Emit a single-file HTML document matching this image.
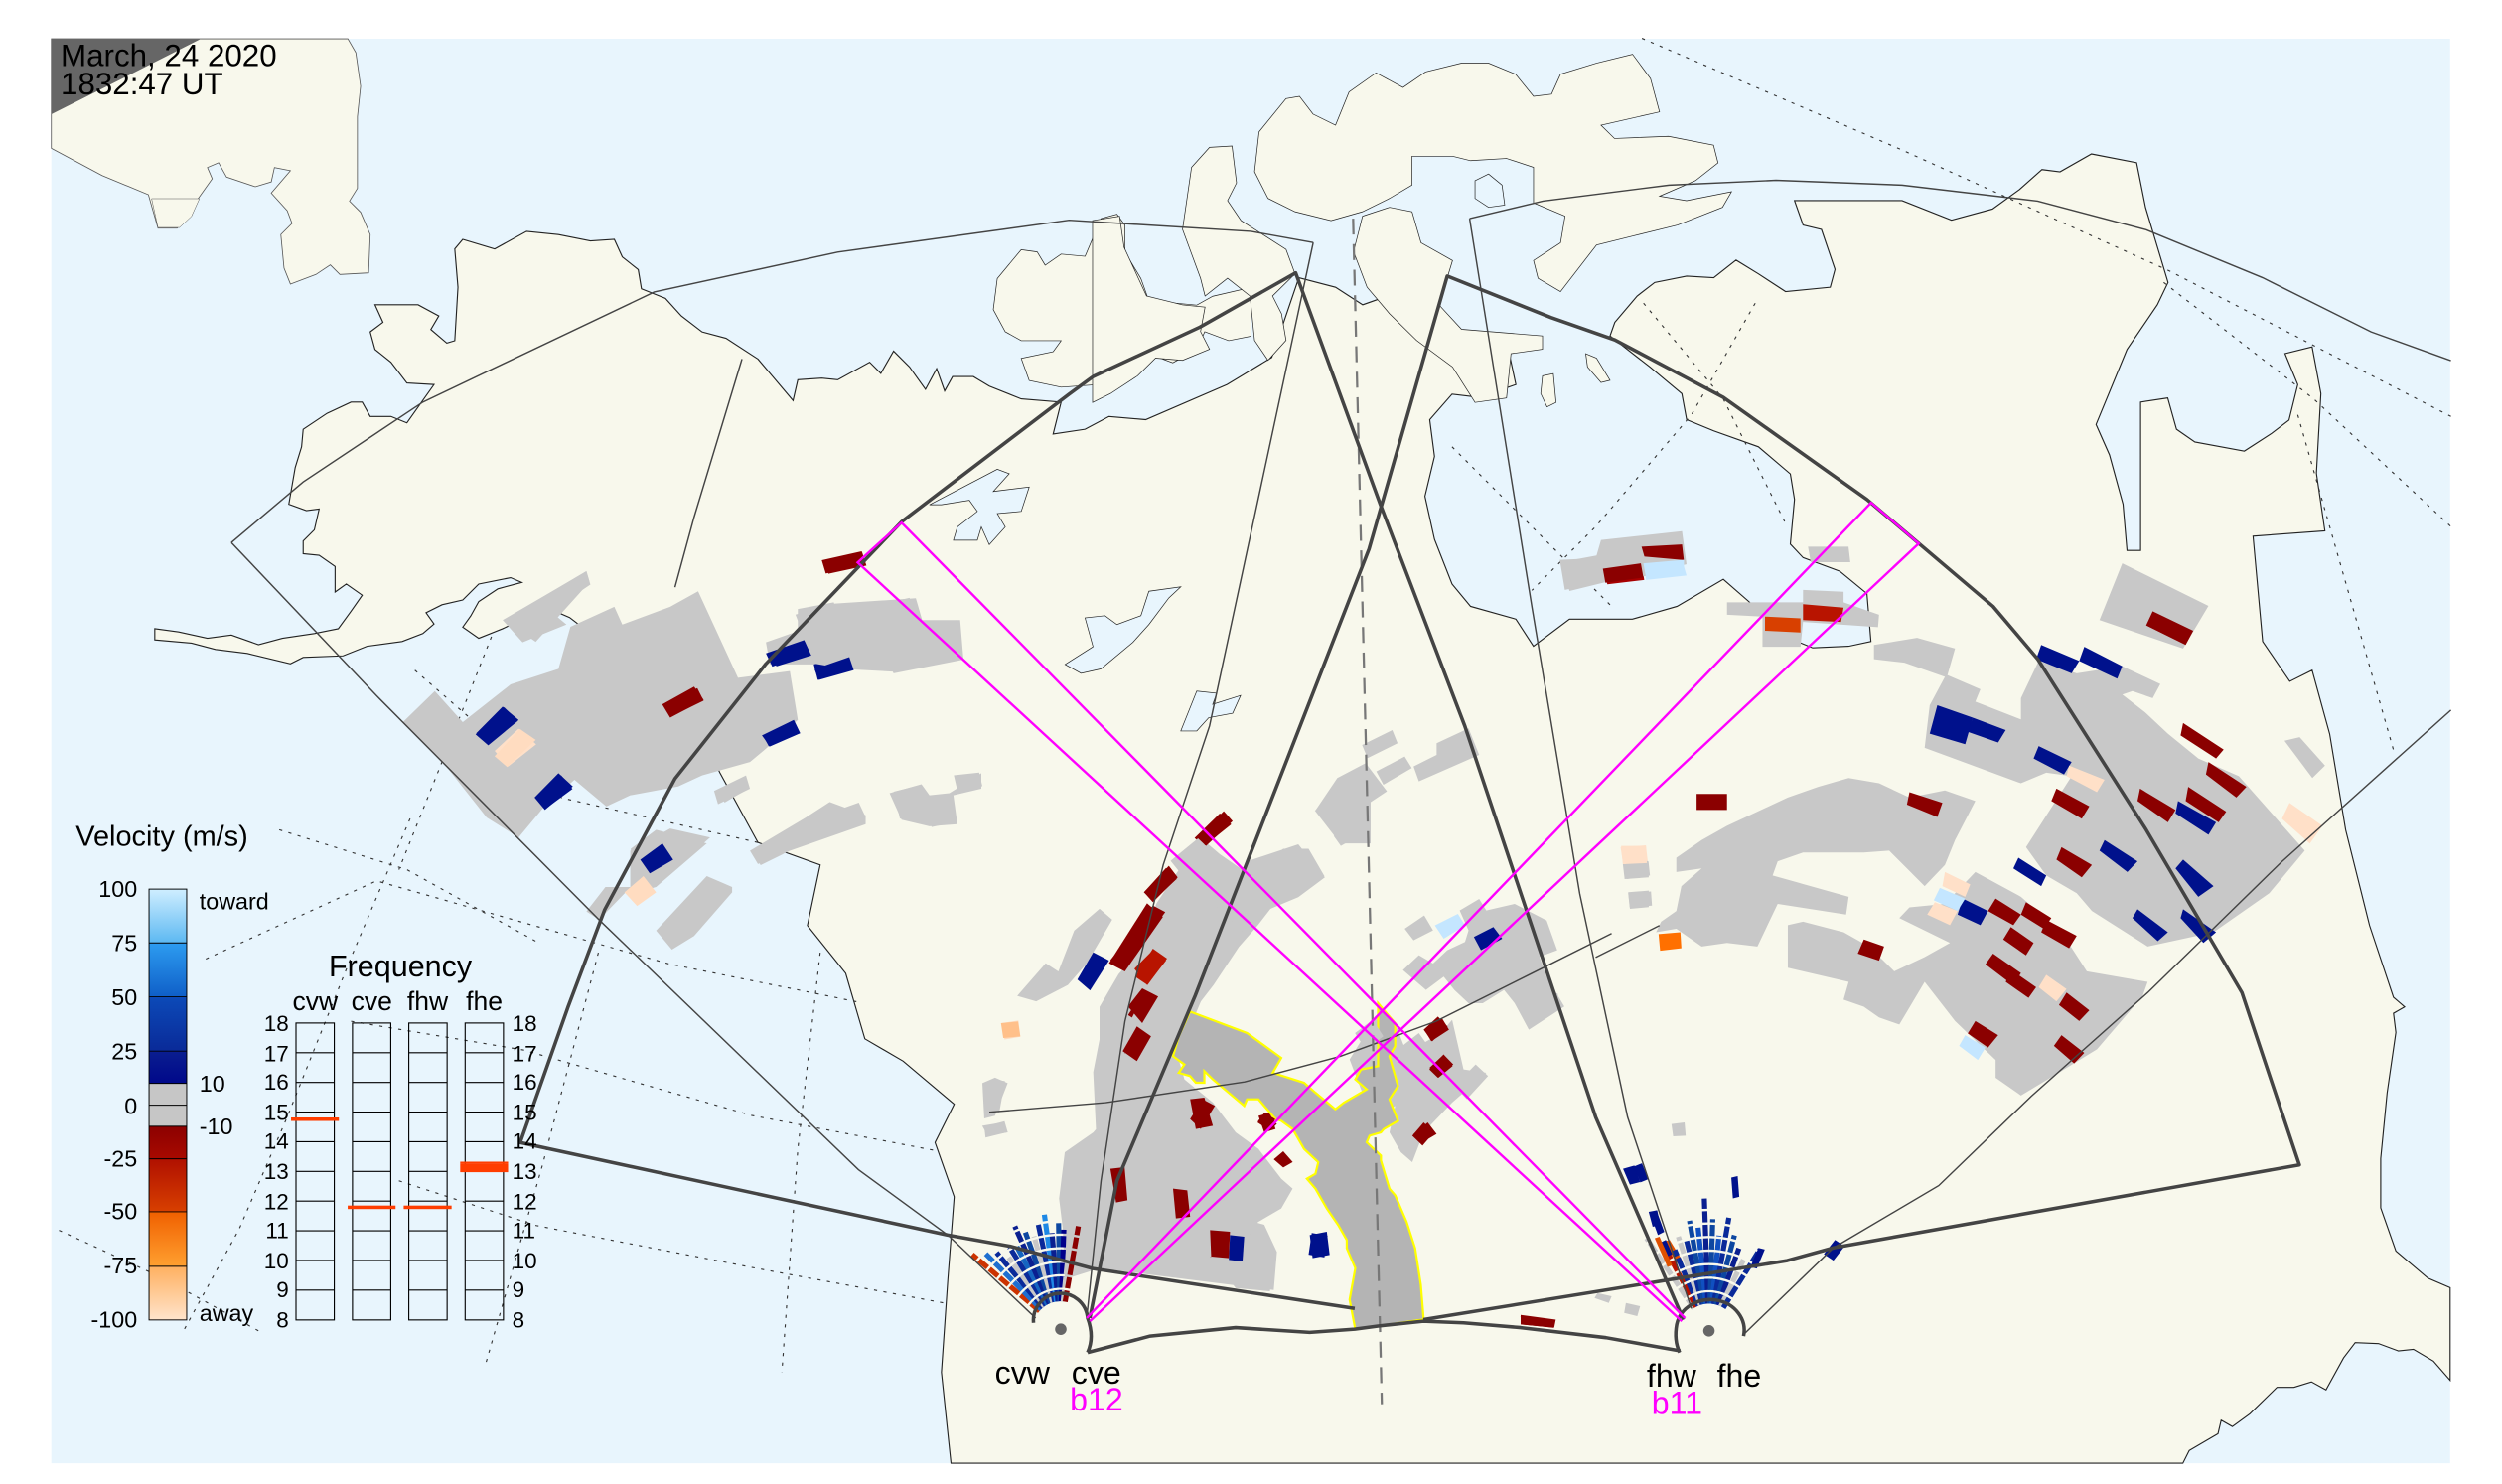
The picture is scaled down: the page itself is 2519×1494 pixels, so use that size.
<!DOCTYPE html>
<html><head><meta charset="utf-8"><style>
html,body{margin:0;padding:0;background:#fff;}
svg{display:block;}
text{font-family:"Liberation Sans",sans-serif;}
.ns{vector-effect:non-scaling-stroke;}
</style></head><body>
<svg width="2519" height="1494" viewBox="0 0 1568 930" preserveAspectRatio="none" xmlns="http://www.w3.org/2000/svg">
<defs>
<linearGradient id="g1" x1="0" y1="0" x2="0" y2="1"><stop offset="0" stop-color="#cfeeff"/><stop offset="1" stop-color="#5cb8f2"/></linearGradient>
<linearGradient id="g2" x1="0" y1="0" x2="0" y2="1"><stop offset="0" stop-color="#2d9cf0"/><stop offset="1" stop-color="#0f5fc8"/></linearGradient>
<linearGradient id="g3" x1="0" y1="0" x2="0" y2="1"><stop offset="0" stop-color="#0c4ab8"/><stop offset="1" stop-color="#0a2a98"/></linearGradient>
<linearGradient id="g4" x1="0" y1="0" x2="0" y2="1"><stop offset="0" stop-color="#0a1e90"/><stop offset="1" stop-color="#00088a"/></linearGradient>
<linearGradient id="g5" x1="0" y1="0" x2="0" y2="1"><stop offset="0" stop-color="#8c0000"/><stop offset="1" stop-color="#a80a00"/></linearGradient>
<linearGradient id="g6" x1="0" y1="0" x2="0" y2="1"><stop offset="0" stop-color="#b01000"/><stop offset="1" stop-color="#d84000"/></linearGradient>
<linearGradient id="g7" x1="0" y1="0" x2="0" y2="1"><stop offset="0" stop-color="#f06000"/><stop offset="1" stop-color="#ffa030"/></linearGradient>
<linearGradient id="g8" x1="0" y1="0" x2="0" y2="1"><stop offset="0" stop-color="#ffb060"/><stop offset="1" stop-color="#ffe4cc"/></linearGradient>
</defs>
<rect x="0" y="0" width="1568" height="930" fill="#fff"/>
<rect x="32.2" y="24.3" width="1503.3" height="892.7" fill="#e8f5fd"/>

<!-- Siberia chunk -->
<polygon fill="#f8f8ec" stroke="#555" stroke-width="0.5" points="32.2,24.3 218,24.3 223,33 226,54 224,73 224,118 219,126 226,133 232,147 231,171 213,172 207,166 198,172 182,178 178,168 176,147 183,140 180,132 170,121 182,107 172,105 170,114 160,117 142,111 137,102 130,105 133,112 111,143 99,143 93,122 64,110 32.2,93"/>
<g transform="translate(0,124.5) scale(0.5,0.278)">
<polygon class="ns" fill="#f8f8ec" stroke="#555" stroke-width="0.5" points="190,0 250,0 240,40 225,65 198,65"/>
</g>

<!-- Mainland -->
<polygon fill="#f8f8ec" stroke="#222" stroke-width="0.7" points="596,917 590,860 594,802 598,750 586,716 598,692 566,665 542,651 530,610 506,580 514,542 475,528 451,484 440,460 400,420 357,387 350,384 330,387 315,394 300,400 290,393 295,386 300,377 312,369 327,365 320,362 300,366 290,376 277,379 267,384 272,391 265,397 252,402 230,405 215,411 190,412 182,416 155,409.5 135,407 120,403 97,401 97,394 112,396 130,400 145,398 162,404 177,400 197,397 212,394 220,383 227,373 217,366 210,371 210,355 200,348 190,347 190,339 197,332 200,319 192,320 181,316 185,293 189,280 190,269 205,259 220,252 227,252 232,261 245,261 255,265 272,241 255,240 245,227 235,219 232,208 240,202 235,191 262,191 275,198 270,206.5 280,215 285,213.5 287,180 285,156 290,150 310,156 330,145 350,147 370,151 385,150 390,161 400,169 402,181 417,187 427,198 440,208 455,212 475,225 497,251 500,238 515,237 525,238 545,227 552,234 560,220 570,230 580,244 587,231 592,245 597,236 610,236 620,242 640,250 665,252 660,272 680,269 695,261 718,263 769,241 797,224 814,174 837,180 854,191 871,185 888,199 905,205 921.6,208 944,213 950,241 927,249 910,247 896,263 899,286 893,311 899,338 910,366 921.6,380 950,388 961,405 983.6,388 1023,388 1051,380 1080,363 1096,377 1119,399 1136,406 1158.5,405 1172.5,402 1170,372 1153,358 1130,349.5 1122,341 1124.6,313 1122,297 1102,280 1074,270 1057,263 1054,246.7 1034,230 1009,210.5 1012,202 1026,185.5 1037,177 1057,173 1074,174 1088,163 1102,171.6 1119,182.7 1147,180 1150,168.8 1141.5,143.8 1130,141 1124.6,125.7 1192,125.7 1223,138 1248.7,131 1265.6,118.8 1279.7,106.3 1291,107.7 1310.7,96.5 1339,102 1344.6,130 1358.7,177 1352,191 1333,219 1313.6,266 1322,285 1330.5,316 1333,345 1341.5,345 1341.5,252 1358.5,249.4 1364,269 1375.5,277 1406.5,282.7 1423.6,271.6 1434.5,263.3 1440,241 1432,221.6 1449,217.4 1454.5,246.6 1451.7,296.6 1457,332.7 1412,336 1418,402 1435,427 1449,420 1460,460 1470,520 1485,580 1500,625 1507,631 1500,635 1501.5,647 1496,685 1492,726 1492,757 1501.5,784 1521.6,801 1535.5,807 1535.5,865 1525,853 1512.5,845.6 1503,846.6 1490.6,842 1476,841.4 1468.7,851 1457.7,871 1448.6,866 1437.6,869.4 1427,869.4 1410,886 1399,894 1392,890 1390,898.5 1372,909 1368,917"/>

<!-- Banks island & lakes (zoom6 frame) -->
<g transform="translate(0,124.5) scale(0.5,0.278)" fill="#f8f8ec" stroke="#222" stroke-width="0.7">
<polygon class="ns" points="1245,250 1250,180 1280,115 1300,120 1310,150 1330,125 1360,130 1380,45 1400,35 1410,60 1410,120 1430,180 1440,230 1500,240 1520,220 1568,200 1568,310 1540,320 1510,300 1500,340 1470,370 1440,350 1400,390 1370,420 1330,425 1290,410 1280,360 1320,345 1330,320 1280,320 1260,300"/>
<polygon class="ns" fill="#e8f5fd" points="1165,690 1250,610 1265,620 1245,660 1290,650 1280,705 1250,710 1260,740 1240,780 1230,740 1225,770 1195,770 1200,740 1225,705 1215,680 1180,690"/>
<polygon class="ns" fill="#e8f5fd" points="1335,1050 1370,1010 1360,945 1385,940 1400,960 1430,940 1440,885 1480,875 1465,900 1440,960 1420,1000 1380,1060 1355,1070"/>
<polygon class="ns" fill="#e8f5fd" points="1480,1200 1500,1110 1525,1115 1520,1140 1555,1120 1545,1160 1515,1170 1500,1200"/>
</g>

<!-- Arctic islands (zoom5 frame) -->
<g transform="translate(684.7,18.7) scale(0.564,0.278)" fill="#f8f8ec" stroke="#222" stroke-width="0.7">
<polygon class="ns" points="0,430 30,420 35,490 60,600 100,620 125,625 120,680 130,720 100,745 70,740 50,780 20,820 0,840"/>
<polygon class="ns" points="110,310 130,265 155,262 160,345 150,385 165,430 215,495 225,550 200,600 210,640 215,700 195,745 180,700 175,600 150,560 125,600 120,560 100,450"/>
<polygon class="ns" points="230,150 245,190 270,215 285,140 315,97 345,130 370,95 410,75 440,75 470,100 490,150 510,145 520,100 560,75 600,55 620,110 630,185 565,215 580,245 640,240 690,260 695,300 670,340 630,375 660,385 710,365 700,400 650,440 600,465 560,485 520,590 495,560 490,520 520,480 525,420 490,390 490,310 460,290 420,295 400,285 355,285 355,350 330,380 300,410 265,430 225,410 195,380 180,320 185,230 215,155"/>
<polygon class="ns" points="300,420 330,400 355,410 365,480 400,520 385,620 410,675 500,690 500,720 465,730 460,830 425,840 400,760 360,700 330,640 305,580 290,500"/>
<polygon class="ns" fill="#e8f5fd" points="425,340 440,325 455,350 458,395 440,400 425,380"/>
<polygon class="ns" points="500,780 512,775 515,840 505,850 498,820"/>
<polygon class="ns" points="548,730 560,740 575,790 565,795 550,760"/>
</g>

<!-- dotted graticule -->
<g fill="none" stroke="#333" stroke-width="0.7" stroke-dasharray="2,4">
<polyline points="175,520 255,545 336,590"/>
<polyline points="257,513 220,600 180,700 150,770 115,834"/>
<polyline points="129,601 236,552 419,604 538,628"/>
<polyline points="37,771 100,800 162,834"/>
<polyline points="220,640 328,658 471,699 586,721"/>
<polyline points="250,740 336,768 475,795 594,817"/>
<polyline points="308,399 280,470 250,545"/>
<polyline points="375,597 340,730 304,856"/>
<polyline points="514,597 500,720 490,860"/>
<polyline points="260,420 352,500 475,528"/>
<polyline points="1029,24 1192,94 1360,170 1536,261"/>
<polyline points="1356,177 1450,250 1536,330"/>
<polyline points="1440,260 1480,400 1500,470"/>
<polyline points="910,280 960,330 1010,380"/>
<polyline points="1100,190 1060,260 1000,330 960,370"/>
<polyline points="1030,190 1080,250 1120,330"/>
</g>

<!-- Gray & colored data, zoom6 frame -->
<g transform="translate(0,124.5) scale(0.5,0.278)">
<g fill="#c8c8c8">
<polygon points="505,1180 545,1110 580,1180 640,1095 700,1060 715,965 770,920 780,960 840,920 875,885 925,1080 990,1065 1000,1175 960,1240 940,1270 880,1300 850,1325 790,1345 760,1370 720,1310 680,1375 650,1440 610,1395 555,1270"/>
<polygon points="630,950 735,840 740,870 690,930 710,960 655,1000"/>
<polygon points="960,1000 1000,975 1000,925 1045,910 1050,935 1140,900 1150,965 1200,950 1205,1040 1120,1070 1105,1010 1070,1040 1020,1050 965,1050"/>
<polygon points="895,1335 935,1300 940,1330 900,1365"/>
<polygon points="940,1470 1010,1395 1040,1360 1085,1390 1085,1410 990,1470 950,1500"/>
<polygon points="1115,1340 1155,1320 1165,1345 1190,1340 1230,1295 1230,1330 1195,1345 1200,1410 1165,1415 1130,1400"/>
<polygon points="790,1470 840,1420 890,1440 840,1520 790,1568"/>
</g>
<polygon fill="#8b0000" points="1030,815 1080,795 1085,825 1035,845"/>
<polygon fill="#8b0000" points="830,1140 870,1100 882,1130 840,1170"/>
<polygon fill="#00118c" points="597,1205 630,1145 650,1175 612,1230"/>
<polygon fill="#ffe0c8" points="620,1245 650,1195 672,1230 637,1280"/>
<polygon fill="#00118c" points="670,1350 700,1295 718,1325 683,1378"/>
<polygon fill="#00118c" points="955,1210 995,1175 1003,1205 965,1235"/>
<polygon fill="#00118c" points="960,1025 1008,995 1015,1025 968,1055"/>
<polygon fill="#00118c" points="1020,1050 1065,1030 1070,1060 1025,1085"/>
<polygon fill="#00118c" points="800,1495 830,1450 845,1480 815,1525"/>
</g>

<!-- zoom7 frame data -->
<g transform="translate(236.5,323.7) scale(0.397,0.3414)">
<g fill="#c8c8c8">
<polygon points="400,610 440,575 520,600 440,680 410,690"/>
<polygon points="440,760 520,660 560,680 560,690 500,770 465,795"/>
<polygon points="330,725 360,680 400,680 350,740"/>
<polygon points="595,620 650,580 700,550 760,525 770,550 700,580 640,620 605,640"/>
<polygon points="540,500 575,480 585,500 548,525"/>
<polygon points="815,505 850,495 865,520 900,510 915,560 875,570 860,530 825,555"/>
<polygon points="910,475 950,470 955,495 915,500"/>
<polygon points="955,1040 975,1030 995,1040 975,1100 958,1105"/>
<polygon points="958,1120 990,1110 995,1130 960,1140"/>
<polygon points="1085,1400 1080,1240 1100,1180 1135,1140 1130,1020 1140,960 1140,900 1170,840 1200,800 1230,710 1270,640 1300,590 1330,620 1380,660 1430,610 1470,610 1495,660 1460,690 1410,720 1390,750 1360,790 1320,860 1300,890 1260,1000 1250,1050 1290,1080 1300,1130 1320,1200 1340,1280 1400,1300 1420,1350 1415,1420 1140,1380"/>
<polygon points="1010,880 1055,820 1075,835 1100,760 1140,720 1160,740 1120,820 1090,860 1040,890"/>
<polygon points="1480,540 1530,480 1568,470 1568,600 1520,600"/>
<polygon points="200,190 330,100 335,120 250,230"/>
<polygon points="660,180 720,160 850,150 860,190 920,190 925,260 820,285 740,280 690,270"/>
</g>
<g fill="#8b0000">
<polygon points="705,80 765,65 772,90 712,105"/>
<polygon points="1290,590 1330,545 1348,565 1305,605"/>
<polygon points="1210,690 1245,645 1262,665 1225,705"/>
<polygon points="1155,820 1215,710 1240,735 1180,835"/>
<polygon points="1185,915 1210,870 1230,890 1205,930"/>
<polygon points="1180,985 1205,940 1220,960 1195,1000"/>
<polygon points="1285,1110 1300,1070 1320,1080 1300,1125"/>
<polygon points="1165,1250 1180,1195 1198,1200 1180,1260"/>
<polygon points="1255,1285 1270,1235 1290,1240 1275,1290"/>
<polygon points="1315,1360 1322,1310 1345,1315 1340,1360"/>
<polygon points="1390,1110 1400,1095 1420,1115 1408,1128"/>
<polygon points="1415,1180 1430,1165 1445,1185 1430,1195"/>
<polygon points="452,345 505,315 515,338 462,368"/>
</g>
<polygon fill="#b81400" points="1195,830 1225,795 1245,815 1215,860"/>
<g fill="#00118c">
<polygon points="1105,850 1130,800 1155,815 1125,870"/>
<polygon points="1345,1365 1345,1320 1370,1325 1365,1370"/>
<polygon points="1470,1355 1475,1315 1500,1320 1495,1360"/>
<polygon points="620,250 675,230 685,255 630,275"/>
<polygon points="690,280 745,258 752,282 697,300"/>
<polygon points="610,405 655,375 667,398 618,422"/>
<polygon points="155,400 200,350 222,375 175,420"/>
<polygon points="250,515 290,475 308,500 265,537"/>
<polygon points="415,630 450,600 467,630 430,655"/>
</g>
<g fill="#ffdcc0">
<polygon points="185,440 225,390 250,410 205,460"/>
<polygon points="390,690 420,660 440,690 410,715"/>
<polygon points="985,930 1012,925 1015,955 990,960"/>
</g>
</g>

<!-- zoom3 frame data -->
<g transform="translate(560.2,622.5) scale(0.357,0.2075)">
<g fill="#c8c8c8">
<polygon points="290,620 300,480 350,420 400,320 410,100 440,0 530,0 500,130 500,200 510,260 560,330 600,420 640,470 680,560 700,590 680,650 640,690 620,720 650,760 670,800 660,900 600,890 560,800 490,740 420,720 360,810 300,760"/>
<polygon points="800,200 850,60 880,90 900,180 960,120 980,80 1000,230 1040,240 980,330 930,420 910,510 890,480 870,420 880,340 845,380 820,290"/>
<polygon points="1080,0 1165,0 1170,45 1115,105"/>
<polygon points="1365,395 1388,390 1390,430 1368,432"/>
<polygon points="1235,905 1260,915 1255,935 1230,920"/>
<polygon points="1285,935 1310,945 1305,975 1282,965"/>
<polygon points="155,400 190,390 200,420 165,430"/>
<polygon points="160,350 175,260 195,265 185,360"/>
</g>
<g fill="#8b0000">
<polygon points="930,110 955,70 972,100 945,145"/>
<polygon points="940,230 965,185 982,215 955,255"/>
<polygon points="910,430 930,390 948,420 928,460"/>
<polygon points="555,715 590,720 588,800 557,795"/>
<polygon points="380,530 405,525 410,625 390,632"/>
<polygon points="490,590 515,595 520,675 495,680"/>
<polygon points="520,320 545,315 560,400 530,410"/>
<polygon points="640,370 660,360 670,410 650,420"/>
<polygon points="1100,975 1155,985 1158,1010 1102,1000"/>
</g>
<g fill="#00118c">
<polygon points="730,730 760,720 765,790 735,800"/>
<polygon points="590,730 615,735 612,810 588,805"/>
<polygon points="1280,530 1300,520 1310,570 1292,578"/>
<polygon points="1325,660 1340,655 1345,700 1332,705"/>
</g>
<polygon fill="#e05000" points="1350,750 1362,745 1385,810 1375,815"/>
<polygon fill="#ffc08a" points="188,90 218,85 222,130 192,135"/>
<!-- yellow box -->
<polygon fill="#b4b4b4" stroke="#ffff00" stroke-width="2.2" class="ns" points="520,55 620,120 680,195 665,240 720,270 740,300 775,350 790,330 830,290 810,260 820,230 850,220 850,30 880,90 880,160 870,190 885,280 870,320 885,385 860,410 855,420 835,430 830,450 855,490 855,505 870,590 880,610 900,690 915,770 925,880 930,985 810,1015 800,925 810,830 795,770 795,745 780,700 760,650 740,590 725,560 740,545 745,510 720,470 700,410 680,385 670,380 640,320 620,320 615,340 560,260 545,235 545,270 530,270 520,250 500,240 510,215 490,190 500,130"/>
</g>

<!-- zoom9 frame data -->
<g transform="translate(684.7,404.6) scale(0.2223,0.2075)">
<g fill="#c8c8c8">
<polygon points="760,300 845,255 860,295 775,340"/>
<polygon points="690,400 770,355 830,440 760,490 735,470 650,530 630,495"/>
<polygon points="800,380 880,335 900,370 820,420"/>
<polygon points="905,365 970,330 970,295 1060,250 1090,330 920,410"/>
<polygon points="680,575 750,520 775,560 700,605"/>
<polygon points="880,855 935,815 960,860 905,890"/>
<polygon points="1035,800 1090,765 1110,800 1190,780 1280,830 1310,920 1260,940 1280,1000 1330,1090 1230,1160 1190,1080 1160,1040 1100,1080 1060,1080 1020,1040 990,1000 940,1040 875,980 920,935 960,960 1000,920 1050,895 1060,860"/>
<polygon points="440,650 580,600 655,700 580,760 490,800 430,870 340,780"/>
<polygon points="1495,660 1565,650 1568,700 1500,705"/>
<polygon points="1510,745 1568,740 1568,790 1515,795"/>
<polygon points="740,1170 790,1130 820,1180 770,1220"/>
<polygon points="860,1220 920,1170 960,1230 910,1280"/>
<polygon points="1020,1330 1080,1265 1115,1300 1055,1370"/>
<polygon points="880,1320 940,1270 960,1320 900,1370"/>
<polygon points="220,650 300,580 330,620 250,690"/>
<polygon points="280,700 350,640 370,670 300,740"/>
</g>
<polygon fill="#c4e6ff" points="965,845 1030,810 1050,845 990,885"/>
<polygon fill="#00118c" points="1075,880 1130,850 1155,885 1095,920"/>
<polygon fill="#ffe0c8" points="1490,605 1560,605 1565,650 1495,660"/>
<g fill="#8b0000">
<polygon points="935,1160 985,1125 1005,1160 955,1195"/>
<polygon points="950,1275 990,1235 1015,1270 975,1305"/>
<polygon points="905,1475 945,1440 970,1475 930,1500"/>
<polygon points="295,580 370,500 395,530 320,605"/>
<polygon points="145,745 215,665 240,700 170,775"/>
<polygon points="110,870 170,785 205,805 150,885"/>
<polygon points="50,950 110,870 145,900 80,975"/>
<polygon points="100,1090 140,1035 185,1060 140,1140"/>
<polygon points="85,1225 125,1150 165,1180 125,1255"/>
<polygon points="275,1430 310,1370 345,1390 305,1460"/>
<polygon points="465,1440 485,1410 515,1430 500,1465"/>
</g>
<polygon fill="#b81400" points="120,1000 170,915 210,945 155,1025"/>
</g>

<!-- zoom5 frame: Hudson data -->
<g transform="translate(684.7,18.7) scale(0.564,0.278)">
<polygon fill="#c8c8c8" points="520,1200 560,1185 565,1150 655,1130 660,1205 600,1230 530,1265"/>
<polygon fill="#8b0000" points="610,1165 655,1160 657,1195 615,1200"/>
<polygon fill="#a80000" points="568,1215 610,1205 613,1240 572,1250"/>
<polygon fill="#c4e6ff" points="613,1205 655,1195 660,1230 615,1240"/>
<polygon fill="#c8c8c8" points="795,1165 840,1165 842,1200 798,1200"/>
</g>

<!-- zoom8 frame: right cluster -->
<g transform="translate(964.8,348.6) scale(0.3176,0.2223)">
<g fill="#c8c8c8">
<polygon points="1150,20 1320,140 1270,260 1105,180"/>
<polygon points="660,250 745,230 820,260 805,335 870,375 860,410 950,460 950,400 985,295 1060,330 1150,310 1225,360 1210,400 1170,380 1150,390 1195,440 1240,500 1300,570 1380,620 1510,830 1440,950 1330,1060 1200,1100 1090,1000 1060,950 1000,900 960,820 1050,620 1000,610 950,640 760,540 770,420 800,340 720,300 660,290"/>
<polygon points="270,850 320,800 370,760 430,720 490,680 550,650 610,625 670,640 730,680 800,660 860,690 820,800 800,870 760,930 690,830 640,835 520,835 470,860 460,900 510,920 610,960 605,1010 470,980 430,1100 370,1090 320,1100 270,1050 230,1060 240,1030 270,1000 280,930 320,880 270,890"/>
<polygon points="490,1040 520,1030 600,1060 650,1100 700,1170 760,1130 810,1090 710,1020 730,990 800,980 860,890 950,960 1030,1060 1080,1170 1200,1200 1190,1240 1100,1390 1020,1460 950,1520 900,1470 900,1420 820,1310 760,1200 710,1320 670,1300 640,1270 600,1250 610,1200 490,1160"/>
<polygon points="170,870 215,860 218,900 172,910"/>
<polygon points="175,950 220,945 222,985 178,990"/>
<polygon points="1470,520 1500,510 1550,590 1525,625"/>
<polygon points="370,130 600,130 670,165 668,200 520,185 515,255 440,255 440,170 370,165"/>
<polygon points="520,95 600,100 600,140 520,140"/>
<polygon points="40,10 200,0 280,10 280,40 120,75 50,95"/>
</g>
<g fill="#8b0000">
<polygon points="1210,155 1290,210 1275,250 1197,195"/>
<polygon points="1270,470 1350,545 1335,570 1265,505"/>
<polygon points="1320,580 1395,650 1375,680 1315,615"/>
<polygon points="1185,655 1255,715 1240,750 1180,690"/>
<polygon points="1280,650 1355,720 1340,750 1275,690"/>
<polygon points="1020,655 1085,705 1070,740 1010,690"/>
<polygon points="310,670 370,670 370,715 310,715"/>
<polygon points="730,665 795,695 785,735 725,700"/>
<polygon points="1030,820 1090,870 1070,905 1020,855"/>
<polygon points="900,965 950,1010 935,1040 885,1000"/>
<polygon points="960,975 1010,1020 995,1050 950,1010"/>
<polygon points="1000,1025 1060,1070 1045,1105 990,1060"/>
<polygon points="930,1045 975,1090 960,1125 915,1080"/>
<polygon points="895,1120 950,1175 935,1210 880,1150"/>
<polygon points="930,1165 980,1215 965,1245 920,1200"/>
<polygon points="1040,1230 1085,1280 1065,1310 1025,1265"/>
<polygon points="860,1310 905,1350 885,1385 845,1345"/>
<polygon points="1030,1350 1075,1400 1055,1430 1015,1380"/>
<polygon points="640,1080 680,1100 670,1140 628,1120"/>
<polygon points="125,35 200,20 205,60 130,75"/>
</g>
<g fill="#00118c">
<polygon points="990,250 1065,295 1050,330 980,290"/>
<polygon points="1075,255 1150,310 1140,345 1065,295"/>
<polygon points="785,420 855,455 840,530 770,500"/>
<polygon points="855,455 920,490 905,525 845,495"/>
<polygon points="985,535 1050,580 1035,615 975,570"/>
<polygon points="1260,690 1335,750 1320,785 1255,725"/>
<polygon points="1115,800 1180,860 1160,890 1105,830"/>
<polygon points="945,850 1000,900 990,930 935,880"/>
<polygon points="1270,855 1330,930 1300,960 1255,880"/>
<polygon points="835,965 885,1000 870,1040 825,1010"/>
<polygon points="1180,995 1240,1060 1220,1085 1170,1020"/>
<polygon points="1270,995 1335,1060 1310,1090 1265,1020"/>
</g>
<g fill="#ffe0c8">
<polygon points="1045,590 1115,630 1100,665 1040,620"/>
<polygon points="1480,695 1545,760 1520,810 1465,740"/>
<polygon points="800,890 850,925 840,960 795,930"/>
<polygon points="780,975 825,1000 810,1040 765,1010"/>
<polygon points="1000,1180 1040,1220 1020,1255 985,1215"/>
<polygon points="160,820 210,815 212,865 165,868"/>
</g>
<g fill="#c4e6ff">
<polygon points="790,935 840,965 825,1000 778,970"/>
<polygon points="840,1350 880,1385 865,1420 828,1380"/>
<polygon points="205,20 285,10 285,45 210,60"/>
</g>
<polygon fill="#b81400" points="520,135 600,145 595,185 520,180"/>
<polygon fill="#d84000" points="445,170 515,175 515,215 445,210"/>
<polygon fill="#ff7000" points="235,1065 278,1060 280,1105 238,1112"/>
</g>

<!-- near-radar streaks cvw -->
<g stroke-width="3.2" fill="none" stroke-dasharray="7,1.5">
<line x1="651.5" y1="821.6" x2="609.3" y2="786.2" stroke="#cc3300"/>
<line x1="652.5" y1="820.5" x2="617.8" y2="785.8" stroke="#1e6fd0"/>
<line x1="653.6" y1="819.5" x2="624.6" y2="785" stroke="#0a2a9a"/>
<line x1="654.5" y1="818.7" x2="632.2" y2="788" stroke="#c8c8c8"/>
<line x1="655.5" y1="818.1" x2="632.7" y2="781.6" stroke="#0a2a9a"/>
<line x1="656.5" y1="817.5" x2="637.3" y2="781.3" stroke="#1565c0"/>
<line x1="657.6" y1="817" x2="636" y2="768.5" stroke="#0a1f90"/>
<line x1="658.7" y1="816.5" x2="642.6" y2="772.3" stroke="#0d47a1"/>
<line x1="659.8" y1="816.2" x2="648" y2="774.8" stroke="#c8c8c8"/>
<line x1="661" y1="815.9" x2="650.4" y2="766" stroke="#0a2a9a"/>
<line x1="662.1" y1="815.7" x2="654.5" y2="761.2" stroke="#1e88e5"/>
<line x1="663" y1="815.6" x2="659.3" y2="772.7" stroke="#0a1f90"/>
<line x1="664.2" y1="815.5" x2="663.4" y2="766.5" stroke="#0d47a1"/>
<line x1="665.1" y1="815.5" x2="666.7" y2="770.6" stroke="#00008b"/>
<line x1="666.3" y1="815.6" x2="670.6" y2="774.8" stroke="#c8c8c8"/>
<line x1="667.5" y1="815.8" x2="675.8" y2="768.5" stroke="#8b0000"/>
</g>
<!-- near-radar streaks fhw -->
<g stroke-width="3.2" fill="none" stroke-dasharray="7,1.5">
<line x1="1061.5" y1="819.9" x2="1031.9" y2="776" stroke="#c8c8c8"/>
<line x1="1063" y1="819" x2="1042.9" y2="781" stroke="#b81400"/>
<line x1="1064.4" y1="818.3" x2="1049.5" y2="783.3" stroke="#0a2a9a"/>
<line x1="1065.7" y1="817.8" x2="1051.8" y2="775" stroke="#c8c8c8"/>
<line x1="1066.9" y1="817.5" x2="1057" y2="777.7" stroke="#0a2a9a"/>
<line x1="1068" y1="817.2" x2="1058.8" y2="765" stroke="#0d47a1"/>
<line x1="1069.2" y1="817.1" x2="1064.2" y2="769.3" stroke="#1050c0"/>
<line x1="1070.4" y1="817" x2="1068.1" y2="751.1" stroke="#0a1f90"/>
<line x1="1071.6" y1="817" x2="1073.4" y2="764" stroke="#0d47a1"/>
<line x1="1072.8" y1="817.1" x2="1077.3" y2="774.3" stroke="#1050c0"/>
<line x1="1074" y1="817.3" x2="1083.5" y2="763.1" stroke="#0a2a9a"/>
<line x1="1075.4" y1="817.6" x2="1087" y2="774.1" stroke="#0d47a1"/>
<line x1="1076.8" y1="818" x2="1089.8" y2="782.3" stroke="#0a1f90"/>
<line x1="1078.4" y1="818.7" x2="1092.9" y2="789" stroke="#c8c8c8"/>
<line x1="1080" y1="819.6" x2="1102.8" y2="783.1" stroke="#0a2a9a"/>
</g>
<g fill="#00118c">
<polygon points="1024,731 1029,729 1033,739 1028,741"/>
<polygon points="1035,763 1039,761 1043,772 1039,774"/>
<polygon points="1040,779 1044,777 1048,786 1044,788"/>
<polygon points="1085,738 1089,737 1090,750 1086,751"/>
<polygon points="1102,782 1106,783 1101,795 1097,794"/>
<polygon points="1143,786 1150,777 1156,781 1149,790"/>
</g>
<polygon fill="#e05000" points="1037,776 1040,775 1048,793 1045,794"/>
<polygon fill="#8b0000" points="953,824 975,827 974,832 953,830"/>

<!-- thin outlines -->
<g fill="none" stroke="#444" stroke-width="0.9">
<polyline points="649,826 594,774 538,733 375,576 236,436 145,340"/>
<polyline points="145,340 190,302 265,252 410,183 525,158 670,138 784,145 823,152"/>
<polyline points="823,152 758,455 729,542 705,640 690,740 681,826"/>
<polyline points="465,225 435,324 423,368"/>
<polyline points="1092,837 1149,782 1215,743 1273,687 1346,622 1430,540 1536,445"/>
<polyline points="921,137 967,126 1046,116 1113,113 1192,116 1277,126 1345,144 1418,174 1486,208 1536,226"/>
<polyline points="921,137 960,380 990,560 1020,700 1060,820"/>
<polyline points="620,697 693,691 780,678 840,662 900,640 960,610 1010,585"/>
<polyline points="1000,600 1040,580"/>
</g>

<!-- dashed vertical -->
<line x1="848" y1="137" x2="866" y2="880" stroke="#777" stroke-width="1.4" stroke-dasharray="10,6"/>

<!-- thick fan outlines -->
<g fill="none" stroke="#444" stroke-width="2.2" stroke-linejoin="round">
<polyline points="1055,827 1000,700 918,455 865,316 812,171 752,205 685,236 670,247 565,327 480,416 423,488 379,570 356,631 326,716 594,774 633,781 685,795 849,820"/>
<polyline points="683,826 700,740 749,624 858,344 907,173 972,199 1012,213 1080,249 1170,313 1249,380 1277,413 1345,520 1405,622 1441,730 1149,782 1120,790 892,827"/>
<path d="M681.6,847.6 L720.8,837.3 L774.4,832 L820.8,835 L849,833 L863.6,831 L892,828 L917.2,829 L953,832 L1006.4,838.3 L1053,846.6"/>
<path d="M681.6,847.6 Q686,838 681.6,826 A17,17 0 0 0 647.7,829"/>
<path d="M1052.6,847.6 Q1049,840 1050.8,830 A20,18 0 0 1 1092.7,837.3"/>
</g>
<circle cx="664.8" cy="833" r="3.6" fill="#666"/>
<circle cx="1071" cy="834" r="3.6" fill="#666"/>

<!-- magenta beams -->
<g stroke="#ff00ff" stroke-width="1.5" fill="none">
<polyline points="681,826 1172.6,315 1202.5,340.6 683,828"/>
<polyline points="1056,826 565,327.5 537.5,352.5 1054,828"/>
</g>

<!-- title -->
<polygon points="32.2,24.3 126,24.3 32.2,71.6" fill="#666"/>
<text x="38" y="41.5" font-size="19.5" fill="#000">March, 24 2020</text>
<text x="38" y="59" font-size="19.5" fill="#000">1832:47 UT</text>

<!-- radar labels -->
<text x="623.5" y="867" font-size="20" fill="#000">cvw</text>
<text x="671.5" y="867" font-size="20" fill="#000">cve</text>
<text x="670.5" y="884" font-size="20" fill="#ff00ff">b12</text>
<text x="1032" y="869" font-size="20" fill="#000">fhw</text>
<text x="1076" y="869" font-size="20" fill="#000">fhe</text>
<text x="1035" y="886" font-size="20" fill="#ff00ff">b11</text>

<!-- velocity colorbar -->
<text x="47.5" y="530" font-size="18" fill="#000">Velocity (m/s)</text>
<rect x="93.4" y="557.2" width="23.6" height="33.7" fill="url(#g1)"/>
<rect x="93.4" y="590.9" width="23.6" height="33.8" fill="url(#g2)"/>
<rect x="93.4" y="624.7" width="23.6" height="34" fill="url(#g3)"/>
<rect x="93.4" y="658.7" width="23.6" height="20.2" fill="url(#g4)"/>
<rect x="93.4" y="678.9" width="23.6" height="26.9" fill="#c6c6c6"/>
<rect x="93.4" y="705.8" width="23.6" height="20.4" fill="url(#g5)"/>
<rect x="93.4" y="726.2" width="23.6" height="33.2" fill="url(#g6)"/>
<rect x="93.4" y="759.4" width="23.6" height="34.2" fill="url(#g7)"/>
<rect x="93.4" y="793.6" width="23.6" height="33.6" fill="url(#g8)"/>
<g stroke="#000" stroke-width="0.6">
<rect x="93.4" y="557.2" width="23.6" height="270" fill="none"/>
<line x1="93.4" y1="590.9" x2="117" y2="590.9"/><line x1="93.4" y1="624.7" x2="117" y2="624.7"/>
<line x1="93.4" y1="658.7" x2="117" y2="658.7"/><line x1="93.4" y1="678.9" x2="117" y2="678.9"/>
<line x1="93.4" y1="692.6" x2="117" y2="692.6"/><line x1="93.4" y1="705.8" x2="117" y2="705.8"/>
<line x1="93.4" y1="726.2" x2="117" y2="726.2"/><line x1="93.4" y1="759.4" x2="117" y2="759.4"/>
<line x1="93.4" y1="793.6" x2="117" y2="793.6"/>
</g>
<g font-size="14.5" fill="#000" text-anchor="end">
<text x="86" y="562">100</text><text x="86" y="596">75</text><text x="86" y="630">50</text>
<text x="86" y="664">25</text><text x="86" y="698">0</text><text x="86" y="731">-25</text>
<text x="86" y="764">-50</text><text x="86" y="798">-75</text><text x="86" y="832">-100</text>
</g>
<g font-size="14.5" fill="#000">
<text x="125" y="570">toward</text><text x="125" y="684">10</text><text x="125" y="711">-10</text><text x="125" y="828">away</text>
</g>

<!-- frequency panel -->
<text x="250.9" y="612" font-size="19" fill="#000" text-anchor="middle">Frequency</text>
<g font-size="16.5" fill="#000" text-anchor="middle">
<text x="197.5" y="633">cvw</text><text x="233" y="633">cve</text><text x="268" y="633">fhw</text><text x="303.5" y="633">fhe</text>
</g>
<g fill="none" stroke="#000" stroke-width="0.7">
<rect x="185.5" y="641.1" width="24" height="186.1"/>
<rect x="220.9" y="641.1" width="24" height="186.1"/>
<rect x="256.2" y="641.1" width="24" height="186.1"/>
<rect x="291.5" y="641.1" width="24" height="186.1"/>
<path d="M185.5,659.7h24M185.5,678.3h24M185.5,696.9h24M185.5,715.5h24M185.5,734.1h24M185.5,752.7h24M185.5,771.3h24M185.5,789.9h24M185.5,808.5h24
M220.9,659.7h24M220.9,678.3h24M220.9,696.9h24M220.9,715.5h24M220.9,734.1h24M220.9,752.7h24M220.9,771.3h24M220.9,789.9h24M220.9,808.5h24
M256.2,659.7h24M256.2,678.3h24M256.2,696.9h24M256.2,715.5h24M256.2,734.1h24M256.2,752.7h24M256.2,771.3h24M256.2,789.9h24M256.2,808.5h24
M291.5,659.7h24M291.5,678.3h24M291.5,696.9h24M291.5,715.5h24M291.5,734.1h24M291.5,752.7h24M291.5,771.3h24M291.5,789.9h24M291.5,808.5h24"/>
</g>
<g font-size="14" fill="#000" text-anchor="end">
<text x="181" y="646">18</text><text x="181" y="665">17</text><text x="181" y="683">16</text><text x="181" y="702">15</text><text x="181" y="720">14</text><text x="181" y="739">13</text><text x="181" y="758">12</text><text x="181" y="776">11</text><text x="181" y="795">10</text><text x="181" y="813">9</text><text x="181" y="832">8</text>
</g>
<g font-size="14" fill="#000">
<text x="321" y="646">18</text><text x="321" y="665">17</text><text x="321" y="683">16</text><text x="321" y="702">15</text><text x="321" y="720">14</text><text x="321" y="739">13</text><text x="321" y="758">12</text><text x="321" y="776">11</text><text x="321" y="795">10</text><text x="321" y="813">9</text><text x="321" y="832">8</text>
</g>
<g fill="#ff3d00">
<rect x="182.4" y="700.3" width="30" height="2.2"/>
<rect x="217.9" y="755.5" width="30" height="2.2"/>
<rect x="253" y="755.5" width="30" height="2.2"/>
<rect x="288.4" y="729" width="30" height="5.6"/>
<rect x="288.4" y="728" width="30" height="1"/>
</g>
</svg>
</body></html>
